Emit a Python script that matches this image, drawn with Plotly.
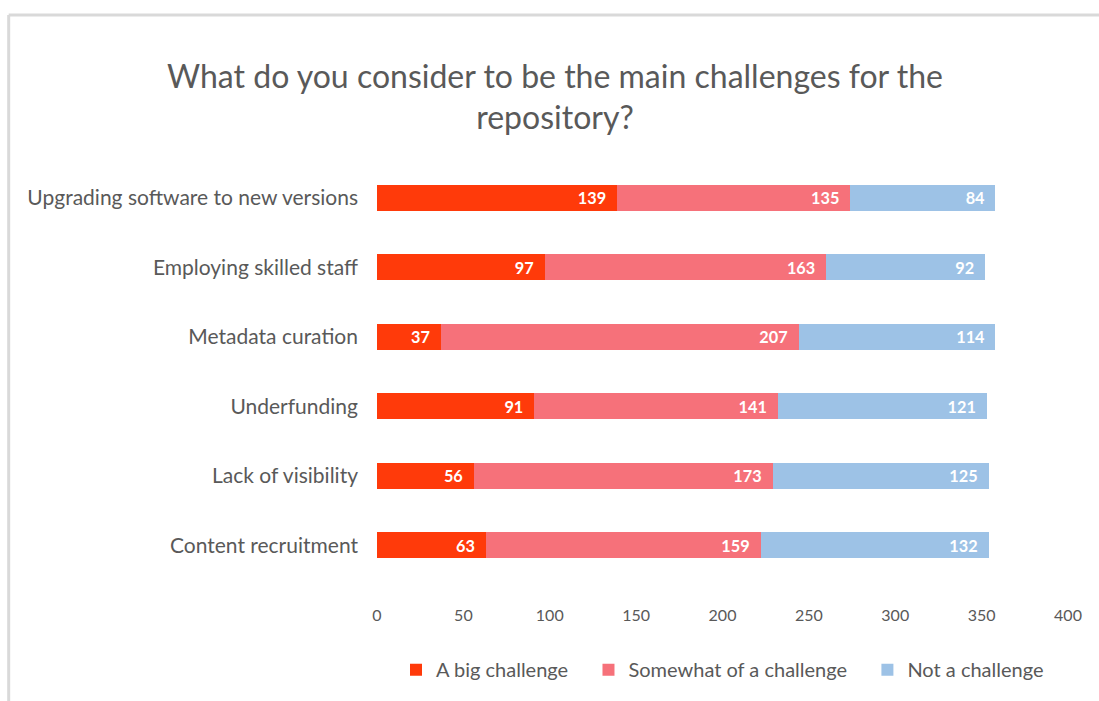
import plotly.graph_objects as go

# Survey responses per challenge (top to bottom as listed)
categories = [
    "Upgrading software to new versions",
    "Employing skilled staff",
    "Metadata curation",
    "Underfunding",
    "Lack of visibility",
    "Content recruitment",
]
big_challenge = [139, 97, 37, 91, 56, 63]
somewhat_challenge = [135, 163, 207, 141, 173, 159]
not_challenge = [84, 92, 114, 121, 125, 132]

series_names = ["A big challenge", "Somewhat of a challenge", "Not a challenge"]
series_values = [big_challenge, somewhat_challenge, not_challenge]
series_colors = ["#FF3A0A", "#F6717A", "#9DC2E6"]

x_ticks = [0, 50, 100, 150, 200, 250, 300, 350, 400]

FONT = "Lato, 'Open Sans', sans-serif"
GREY = "#595959"
PAD = "\u00a0\u00a0"  # keeps value labels off the bar end
LEG_PAD = "\u00a0\u00a0\u00a0"  # extra room between legend entries

fig = go.Figure()
for i, (name, vals, col) in enumerate(zip(series_names, series_values, series_colors)):
    fig.add_trace(go.Bar(
        y=categories,
        x=vals,
        name=name + (LEG_PAD if i < len(series_names) - 1 else ""),
        orientation="h",
        marker=dict(color=col, line=dict(width=0)),
        text=[f"{v}{PAD}" for v in vals],
        textposition="inside",
        insidetextanchor="end",
        textangle=0,
        textfont=dict(family=FONT, size=19, color="white", weight="bold"),
        cliponaxis=False,
    ))

fig.update_layout(
    barmode="stack",
    bargap=0.63,
    width=1099,
    height=701,
    margin=dict(l=377, r=31, t=163, b=118),
    paper_bgcolor="white",
    plot_bgcolor="white",
    font=dict(family=FONT, color=GREY),
    title=dict(
        text="What do you consider to be the main challenges for the<br>repository?",
        x=0.505,
        xanchor="center",
        y=0.875,
        yanchor="top",
        font=dict(family=FONT, size=32, color=GREY),
    ),
    legend=dict(
        orientation="h",
        x=0.5,
        xanchor="center",
        y=-0.215,
        yanchor="middle",
        font=dict(family=FONT, size=20, color=GREY),
        itemwidth=30,
        traceorder="normal",
    ),
    showlegend=True,
    uniformtext=dict(mode="show", minsize=10),
)

fig.update_xaxes(
    range=[0, 400],
    tickvals=x_ticks,
    ticktext=[str(t) for t in x_ticks],
    showgrid=False,
    zeroline=False,
    showline=False,
    ticks="",
    ticklabelstandoff=24,
    tickfont=dict(family=FONT, size=16, color=GREY),
)
fig.update_yaxes(
    categoryorder="array",
    categoryarray=categories[::-1],
    showgrid=False,
    zeroline=False,
    showline=False,
    ticks="",
    ticklabelstandoff=18,
    tickfont=dict(family=FONT, size=21, color=GREY),
)

# Light frame around the chart area
fig.add_shape(type="line", xref="paper", yref="paper",
              x0=-0.533, x1=1.1, y0=1.355, y1=1.355,
              line=dict(color="#D9D9D9", width=3))
fig.add_shape(type="line", xref="paper", yref="paper",
              x0=-0.533, x1=-0.533, y0=-0.3, y1=1.355,
              line=dict(color="#D9D9D9", width=3))

fig.write_html("out.html")
